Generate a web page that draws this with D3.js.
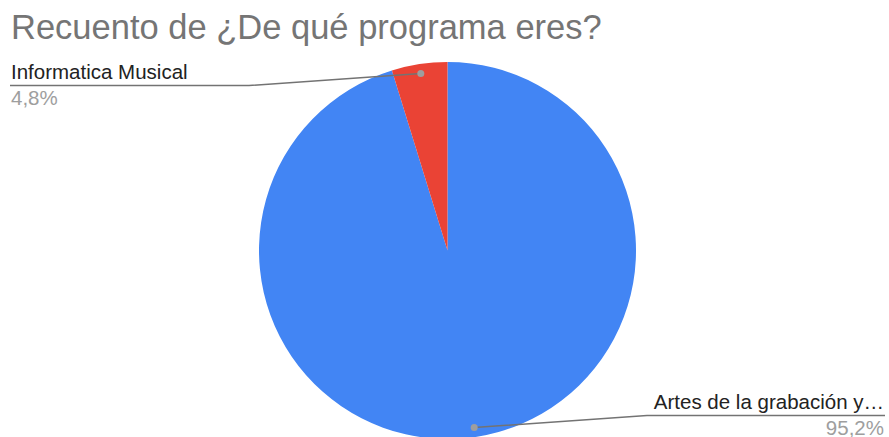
<!DOCTYPE html>
<html>
<head>
<meta charset="utf-8">
<script src="https://cdn.jsdelivr.net/npm/d3@7/dist/d3.min.js"></script>
<style>
  body { margin: 0; background: #fff; }
  text { font-family: "Liberation Sans", Arial, sans-serif; }
</style>
</head>
<body>
<div id="chart"></div>
<script>
// programa y recuento
var categories = ['Artes de la grabación y producción musical', 'Informatica Musical'];
var values = [20, 1];
var colors = ['#4285f4', '#ea4335'];
var shortLabels = ['Artes de la grabación y…', 'Informatica Musical'];

var width = 889, height = 437;
var cx = 447.5, cy = 250.5, r = 188.5;

var svg = d3.select('#chart').append('svg')
    .attr('width', width)
    .attr('height', height);

svg.append('text')
    .attr('x', 11)
    .attr('y', 39)
    .attr('font-size', 34.5)
    .attr('fill', '#757575')
    .text('Recuento de ¿De qué programa eres?');

var total = d3.sum(values);
var pie = d3.pie().sort(null).value(function (d) { return d; });
var arcs = pie(values);
var arc = d3.arc().innerRadius(0).outerRadius(r);

var g = svg.append('g').attr('transform', 'translate(' + cx + ',' + cy + ')');

g.selectAll('path')
    .data(arcs)
    .enter()
    .append('path')
    .attr('d', arc)
    .attr('fill', function (d, i) { return colors[i]; });

var fmt = function (v) { return (v / total * 100).toFixed(1).replace('.', ',') + '%'; };

// label layout: where the leader line ends and where the text sits
var labels = [
  { i: 1, lineY: 85.5, elbowX: 249, endX: 10, anchor: 'start', tx: 11 },
  { i: 0, lineY: 415.5, elbowX: 647, endX: 885, anchor: 'end', tx: 884 }
];

labels.forEach(function (l) {
  var a = arcs[l.i];
  var mid = (a.startAngle + a.endAngle) / 2;
  var px = cx + Math.sin(mid) * r * 0.95;
  var py = cy - Math.cos(mid) * r * 0.95;

  svg.append('path')
      .attr('d', 'M' + px + ',' + py + 'L' + l.elbowX + ',' + l.lineY + 'L' + l.endX + ',' + l.lineY)
      .attr('fill', 'none')
      .attr('stroke', '#737373')
      .attr('stroke-width', 1.5);

  svg.append('circle')
      .attr('cx', px)
      .attr('cy', py)
      .attr('r', 3.5)
      .attr('fill', '#9e9e9e');

  svg.append('text')
      .attr('x', l.tx)
      .attr('y', l.lineY - 7)
      .attr('text-anchor', l.anchor)
      .attr('font-size', 20.5)
      .attr('fill', '#222')
      .text(shortLabels[l.i]);

  svg.append('text')
      .attr('x', l.tx)
      .attr('y', l.lineY + 19)
      .attr('text-anchor', l.anchor)
      .attr('font-size', 20.5)
      .attr('fill', '#9e9e9e')
      .text(fmt(values[l.i]));
});
</script>
</body>
</html>
